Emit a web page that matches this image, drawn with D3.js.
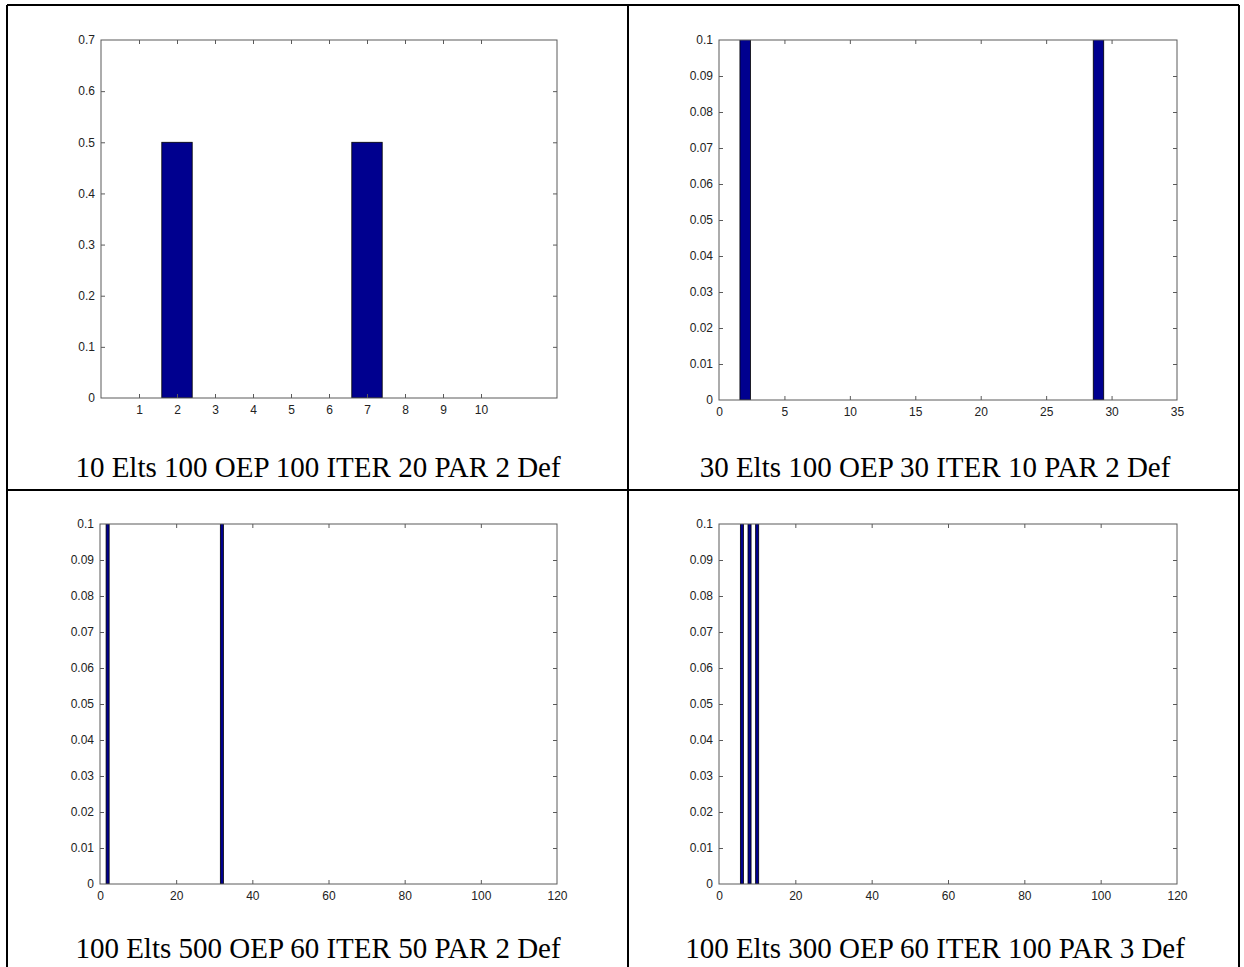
<!DOCTYPE html>
<html>
<head>
<meta charset="utf-8">
<script src="https://cdn.jsdelivr.net/npm/d3@7"></script>
<style>
  body { margin: 0; background: #fff; }
  svg { display: block; }
</style>
</head>
<body>
<svg id="svg" width="1244" height="967"></svg>
<script>
// 図1：10要素のヒストグラム
const elts10 = [1, 2, 3, 4, 5, 6, 7, 8, 9, 10];
const values10 = [0, 0.5, 0, 0, 0, 0, 0.5, 0, 0, 0];
// 図2〜4：値が0でない要素の位置と値だけ
const pos30 = [2, 29];
const values30 = [0.5, 0.5];
const pos100a = [2, 32];
const values100a = [0.5, 0.5];
const pos100b = [6, 8, 10];
const values100b = [0.3333, 0.3333, 0.3333];

// 目盛り
const yTicksBig = [0, 0.1, 0.2, 0.3, 0.4, 0.5, 0.6, 0.7];
const yTicksSmall = [0, 0.01, 0.02, 0.03, 0.04, 0.05, 0.06, 0.07, 0.08, 0.09, 0.1];
const xTicks30 = [0, 5, 10, 15, 20, 25, 30, 35];
const xTicks100 = [0, 20, 40, 60, 80, 100, 120];

// キャプション
const captions = [
  "10 Elts 100 OEP 100 ITER 20 PAR 2 Def",
  "30 Elts 100 OEP 30 ITER 10 PAR 2 Def",
  "100 Elts 500 OEP 60 ITER 50 PAR 2 Def",
  "100 Elts 300 OEP 60 ITER 100 PAR 3 Def"
];

const svg = d3.select("#svg");
const axisColor = "#5a5a5a";
const barWidth = 0.8; // MATLABのbarの既定幅

// 表の枠線
function drawTable() {
  const lines = [
    [7, 5, 7, 967],
    [7, 5, 1239, 5],
    [1239, 5, 1239, 967],
    [628, 5, 628, 967],
    [7, 490, 1239, 490]
  ];
  lines.forEach(([x1, y1, x2, y2]) => {
    svg.append("line")
      .attr("x1", x1).attr("y1", y1)
      .attr("x2", x2).attr("y2", y2)
      .attr("stroke", "#000")
      .attr("stroke-width", 2);
  });
}

// 1つのグラフを描く
function drawPanel(p, idx) {
  const x = d3.scaleLinear().domain(p.xDomain).range([p.left, p.right]);
  const y = d3.scaleLinear().domain(p.yDomain).range([p.bottom, p.top]);
  const g = svg.append("g").attr("class", "panel");

  const clipId = "clip" + idx;
  g.append("clipPath").attr("id", clipId)
    .append("rect")
    .attr("x", p.left).attr("y", p.top)
    .attr("width", p.right - p.left).attr("height", p.bottom - p.top);

  // 棒
  g.append("g").attr("clip-path", `url(#${clipId})`)
    .selectAll("rect")
    .data(p.xs.map((d, i) => ({ x: d, v: p.vals[i] })).filter((d) => d.v > 0))
    .join("rect")
    .attr("x", (d) => x(d.x - barWidth / 2))
    .attr("width", (d) => x(d.x + barWidth / 2) - x(d.x - barWidth / 2))
    .attr("y", (d) => y(d.v))
    .attr("height", (d) => y(0) - y(d.v))
    .attr("fill", "#00008f")
    .attr("stroke", "#000")
    .attr("stroke-width", 0.8);

  // 軸（目盛りは内向き）
  const bottom = g.append("g")
    .attr("transform", `translate(0,${p.bottom})`)
    .call(d3.axisBottom(x).tickValues(p.xTicks).tickSize(-4).tickPadding(7).tickFormat((d) => d));
  const left = g.append("g")
    .attr("transform", `translate(${p.left},0)`)
    .call(d3.axisLeft(y).tickValues(p.yTicks).tickSize(-4).tickPadding(6).tickFormat((d) => +d.toFixed(2)));
  const top = g.append("g")
    .attr("transform", `translate(0,${p.top})`)
    .call(d3.axisTop(x).tickValues(p.xTicks).tickSize(-4).tickFormat(""));
  const right = g.append("g")
    .attr("transform", `translate(${p.right},0)`)
    .call(d3.axisRight(y).tickValues(p.yTicks).tickSize(-4).tickFormat(""));

  [bottom, left, top, right].forEach((a) => {
    a.select(".domain").remove();
    a.selectAll(".tick line").attr("stroke", axisColor);
    a.attr("font-family", "'Liberation Sans', Arial, sans-serif")
      .attr("font-size", 12);
    a.selectAll(".tick text").attr("fill", "#222");
  });
  // 端の目盛り線は枠と重なるので消す
  [bottom, top].forEach((a) =>
    a.selectAll(".tick").filter((d) => d === p.xDomain[0] || d === p.xDomain[1]).select("line").remove()
  );
  [left, right].forEach((a) =>
    a.selectAll(".tick").filter((d) => d === p.yDomain[0] || d === p.yDomain[1]).select("line").remove()
  );

  // 枠
  g.append("rect")
    .attr("x", p.left).attr("y", p.top)
    .attr("width", p.right - p.left).attr("height", p.bottom - p.top)
    .attr("fill", "none")
    .attr("stroke", axisColor)
    .attr("stroke-width", 1);

  // キャプション
  svg.append("text")
    .attr("x", p.capX).attr("y", p.capY)
    .attr("text-anchor", "middle")
    .attr("font-family", "'Liberation Serif', 'Times New Roman', serif")
    .attr("font-size", 29)
    .attr("fill", "#000")
    .text(p.caption);
}

drawTable();

const panels = [
  { left: 101, right: 557, top: 40, bottom: 398, xDomain: [0, 12], yDomain: [0, 0.7],
    xTicks: elts10, yTicks: yTicksBig, xs: elts10, vals: values10,
    capX: 318, capY: 477, caption: captions[0] },
  { left: 719, right: 1177, top: 40, bottom: 400, xDomain: [0, 35], yDomain: [0, 0.1],
    xTicks: xTicks30, yTicks: yTicksSmall, xs: pos30, vals: values30,
    capX: 935, capY: 477, caption: captions[1] },
  { left: 100, right: 557, top: 524, bottom: 884, xDomain: [0, 120], yDomain: [0, 0.1],
    xTicks: xTicks100, yTicks: yTicksSmall, xs: pos100a, vals: values100a,
    capX: 318, capY: 958, caption: captions[2] },
  { left: 719, right: 1177, top: 524, bottom: 884, xDomain: [0, 120], yDomain: [0, 0.1],
    xTicks: xTicks100, yTicks: yTicksSmall, xs: pos100b, vals: values100b,
    capX: 935, capY: 958, caption: captions[3] }
];
panels.forEach((p, i) => drawPanel(p, i));
</script>
</body>
</html>
